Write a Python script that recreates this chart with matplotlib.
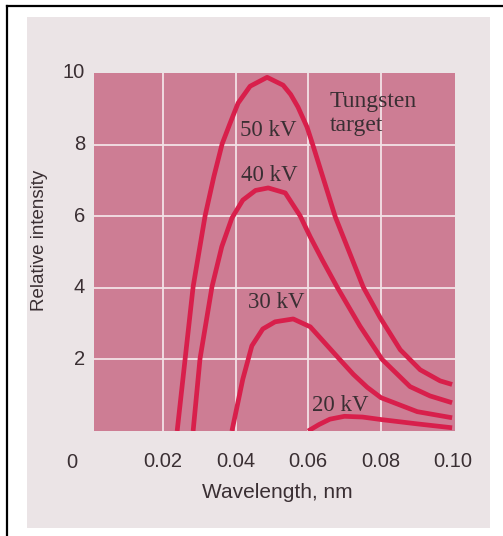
import matplotlib
matplotlib.use("Agg")
from matplotlib import pyplot as plt
from matplotlib.patches import Rectangle
from matplotlib.lines import Line2D

# wavelength (nm) / relative intensity
x50 = [0.0239, 0.0261, 0.0283, 0.0316, 0.0340, 0.0363, 0.0385, 0.0407, 0.0440, 0.0487,
       0.0531, 0.0552, 0.0572, 0.0597, 0.0614, 0.0675, 0.0752, 0.0799, 0.0854, 0.0909,
       0.0964, 0.0997]
y50 = [0.0, 2.02, 4.03, 6.01, 7.10, 8.02, 8.60, 9.16, 9.63, 9.88,
       9.66, 9.40, 9.05, 8.49, 7.96, 5.98, 4.02, 3.16, 2.27, 1.71,
       1.40, 1.30]

x40 = [0.0283, 0.0302, 0.0335, 0.0362, 0.0390, 0.0420, 0.0455, 0.0490, 0.0537, 0.0578,
       0.0606, 0.0639, 0.0680, 0.0743, 0.0804, 0.0881, 0.0936, 0.0997]
y40 = [0.0, 2.02, 4.03, 5.15, 5.95, 6.45, 6.72, 6.79, 6.65, 6.01,
       5.42, 4.78, 4.02, 2.93, 2.00, 1.24, 0.98, 0.79]

x30 = [0.0390, 0.0420, 0.0445, 0.0475, 0.0509, 0.0559, 0.0606, 0.0688, 0.0725, 0.0763,
       0.0801, 0.0901, 0.0997]
y30 = [0.0, 1.45, 2.38, 2.85, 3.05, 3.13, 2.91, 1.99, 1.58, 1.22,
       0.93, 0.54, 0.37]

x20 = [0.0600, 0.0630, 0.0660, 0.0700, 0.0750, 0.0801, 0.0900, 0.0997]
y20 = [0.0, 0.18, 0.33, 0.41, 0.39, 0.32, 0.20, 0.09]

curves = [(x50, y50), (x40, y40), (x30, y30), (x20, y20)]
labels = ["50 kV", "40 kV", "30 kV", "20 kV"]
label_pos = [(0.0490, 8.38), (0.0492, 7.13), (0.0512, 3.59), (0.0690, 0.72)]

xticks = [0.02, 0.04, 0.06, 0.08, 0.10]
xtick_labels = ["0.02", "0.04", "0.06", "0.08", "0.10"]
yticks = [2, 4, 6, 8, 10]

pink = "#cd7d94"
red = "#d81f4b"
ink = "#3a2f33"
sans = ["Liberation Sans", "DejaVu Sans"]
serif = ["Liberation Serif", "DejaVu Serif"]

fig = plt.figure(figsize=(5.03, 5.36), dpi=100)
W, H = 503.0, 536.0

# light panel behind the chart
fig.patches.append(Rectangle((27 / W, 1 - 528 / H), (490 - 27) / W, (528 - 17) / H,
                             transform=fig.transFigure, facecolor="#ebe4e6", edgecolor="none",
                             zorder=-10))
# black frame (top and left edges)
fig.lines.append(Line2D([7 / W, 7 / W], [0, 1 - 6 / H], transform=fig.transFigure, color="black", lw=1.6))
fig.lines.append(Line2D([7 / W, 1], [1 - 6 / H, 1 - 6 / H], transform=fig.transFigure, color="black", lw=1.6))

ax = fig.add_axes([94 / W, 1 - 431 / H, (455 - 94) / W, (431 - 73) / H])
ax.set_facecolor(pink)
ax.set_xlim(0.00097, 0.1005)
ax.set_ylim(0, 10)
for s in ax.spines.values():
    s.set_visible(False)

ax.set_xticks(xticks[:-1])
ax.set_yticks(yticks[:-1])
ax.grid(True, color="#f3e2e6", lw=1.3)
ax.set_axisbelow(True)
ax.tick_params(length=0, labelbottom=False, labelleft=False)

# tick labels as text so that 0.10 and 10 sit at the edges
for xv, lab in zip(xticks, xtick_labels):
    ax.text(xv, -0.86, lab, ha="center", va="center", fontsize=14.5, color=ink, family=sans,
            clip_on=False)
for yv in yticks:
    ax.text(-0.0015, yv, str(yv), ha="right", va="center", fontsize=14.5, color=ink, family=sans,
            clip_on=False)
fig.text(72 / W, 1 - 462 / H, "0", ha="center", va="center", fontsize=14.5, color=ink, family=sans)

for (xs, ys) in curves:
    ax.plot(xs, ys, color=red, lw=3.4, solid_capstyle="butt", solid_joinstyle="round")

for lab, (lx, ly) in zip(labels, label_pos):
    ax.text(lx, ly, lab, ha="center", va="center", fontsize=16.5, color=ink, family=serif)
ax.text(0.0659, 9.5, "Tungsten\ntarget", ha="left", va="top", fontsize=17, color=ink,
        family=serif, linespacing=1.2)

fig.text(277 / W, 1 - 493 / H, "Wavelength, nm", ha="center", va="center", fontsize=15,
         color=ink, family=sans)
fig.text(40 / W, 1 - 240 / H, "Relative intensity", ha="center", va="center", fontsize=13.5,
         color=ink, family=sans, rotation=90)

fig.savefig("out.png", dpi=100)
